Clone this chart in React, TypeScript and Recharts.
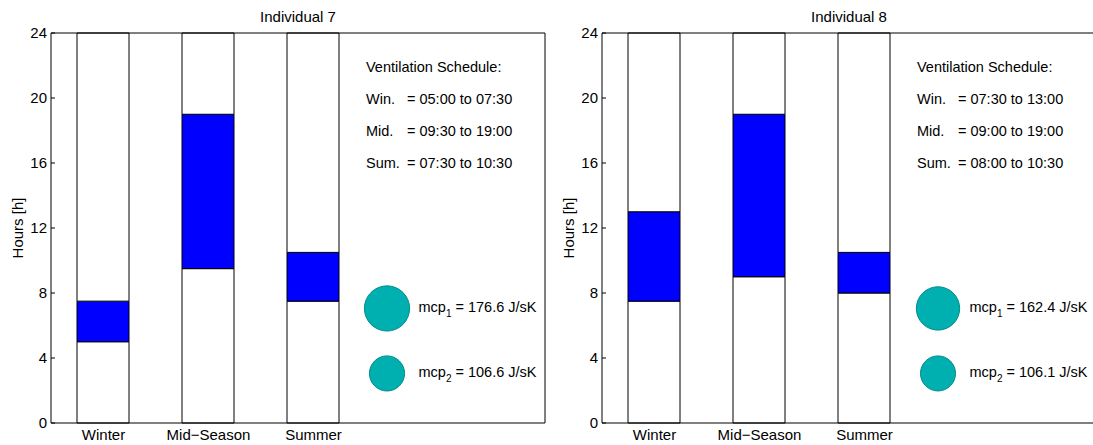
import { Bar, ComposedChart, ReferenceDot, ReferenceLine, XAxis, YAxis } from "recharts";

const seasons = ["Winter", "Mid\u2212Season", "Summer"];
const seasonAbbr = ["Win.", "Mid.", "Sum."];
const seasonPos = [1, 2, 3];
const hourTicks = [0, 4, 8, 12, 16, 20, 24];

const ind7Start = [5, 9.5, 7.5];
const ind7End = [7.5, 19, 10.5];
const ind7Mcp = [176.6, 106.6];

const ind8Start = [7.5, 9, 8];
const ind8End = [13, 19, 10.5];
const ind8Mcp = [162.4, 106.1];

const FONT = "'Liberation Sans', Arial, Helvetica, sans-serif";
const BLUE = "#0000FF";
const TEAL = "#00B0B0";

// circle markers sit at fixed spots inside the plot (x in category units, y in hours)
const MCP_X = 3.7;
const MCP_Y = [7.05, 3.05];

function hhmm(h: number): string {
  const hh = Math.floor(h);
  const mm = Math.round((h - hh) * 60);
  return `${String(hh).padStart(2, "0")}:${String(mm).padStart(2, "0")}`;
}

function McpLabel(props: any) {
  const { viewBox, idx, value } = props;
  if (!viewBox) return null;
  const cx = viewBox.x + viewBox.width / 2;
  const cy = viewBox.y + viewBox.height / 2;
  return (
    <text x={cx + 31.5} y={cy + 4} fontSize={14.5} fontFamily={FONT} fill="#000">
      <tspan>mcp</tspan>
      <tspan fontSize={10} dy={5}>
        {idx + 1}
      </tspan>
      <tspan dy={-5}>{` = ${value.toFixed(1)} J/sK`}</tspan>
    </text>
  );
}

interface PanelProps {
  title: string;
  starts: number[];
  ends: number[];
  mcp: number[];
  left: number;
}

function Panel({ title, starts, ends, mcp, left }: PanelProps) {
  const data = seasons.map((s, i) => ({
    season: s,
    pos: seasonPos[i],
    below: starts[i],
    on: ends[i] - starts[i],
    above: 24 - ends[i],
  }));

  return (
    <div style={{ position: "absolute", left, top: 0, width: 560, height: 445 }}>
      <ComposedChart
        width={560}
        height={445}
        data={data}
        margin={{ top: 33, right: 14, bottom: 2, left: 11 }}
      >
        <XAxis
          dataKey="pos"
          type="number"
          domain={[0.5, 0.5 + 494 / 105]}
          allowDataOverflow
          ticks={seasonPos}
          interval={0}
          tickFormatter={(v: number) => seasons[v - 1] ?? ""}
          tickLine={false}
          tickSize={0}
          tickMargin={6}
          axisLine={{ stroke: "#000" }}
          tick={{ fontSize: 15, fill: "#000", fontFamily: FONT }}
          height={20}
        />
        <YAxis
          domain={[0, 24]}
          ticks={hourTicks}
          interval={0}
          tickSize={-4}
          tickMargin={8}
          width={40}
          axisLine={{ stroke: "#000" }}
          tickLine={{ stroke: "#000" }}
          tick={{ fontSize: 15, fill: "#000", fontFamily: FONT }}
          label={{
            value: "Hours [h]",
            angle: -90,
            position: "insideLeft",
            offset: 7,
            fontSize: 15,
            fill: "#000",
            fontFamily: FONT,
            style: { textAnchor: "middle" },
          }}
        />
        <YAxis
          yAxisId="r"
          orientation="right"
          domain={[0, 24]}
          ticks={hourTicks}
          interval={0}
          tickSize={-5}
          width={1}
          tickFormatter={() => ""}
          axisLine={{ stroke: "#000" }}
          tickLine={{ stroke: "#000" }}
        />
        <Bar dataKey="below" stackId="a" fill="#fff" stroke="#000" barSize={52} isAnimationActive={false} />
        <Bar dataKey="on" stackId="a" fill={BLUE} stroke="#000" barSize={52} isAnimationActive={false} />
        <Bar dataKey="above" stackId="a" fill="#fff" stroke="#000" barSize={52} isAnimationActive={false} />
        <ReferenceLine y={24} stroke="#000" />
        {mcp.map((v, i) => (
          <ReferenceDot
            key={i}
            x={MCP_X}
            y={MCP_Y[i]}
            r={1.7 * Math.sqrt(v)}
            fill={TEAL}
            stroke="#008A8A"
            strokeWidth={1}
            ifOverflow="visible"
            label={<McpLabel idx={i} value={v} />}
          />
        ))}
      </ComposedChart>
      <svg
        width={560}
        height={445}
        style={{ position: "absolute", left: 0, top: 0, pointerEvents: "none" }}
        fontFamily={FONT}
      >
        <text x={298} y={21.5} textAnchor="middle" fontSize={15} fill="#000">
          {title}
        </text>
        <text x={366} y={72} fontSize={14.5} fill="#000">
          Ventilation Schedule:
        </text>
        {seasonAbbr.map((a, i) => (
          <g key={a}>
            <text x={366} y={103.5 + i * 32.3} fontSize={14.5} fill="#000">
              {a}
            </text>
            <text x={407} y={103.5 + i * 32.3} fontSize={14.5} fill="#000">
              {`= ${hhmm(starts[i])} to ${hhmm(ends[i])}`}
            </text>
          </g>
        ))}
      </svg>
    </div>
  );
}

export default function App() {
  return (
    <div
      style={{
        position: "absolute",
        left: 0,
        top: 0,
        width: 1093,
        height: 445,
        overflow: "hidden",
        background: "#fff",
      }}
    >
      <Panel title="Individual 7" starts={ind7Start} ends={ind7End} mcp={ind7Mcp} left={0} />
      <Panel title="Individual 8" starts={ind8Start} ends={ind8End} mcp={ind8Mcp} left={551} />
    </div>
  );
}
